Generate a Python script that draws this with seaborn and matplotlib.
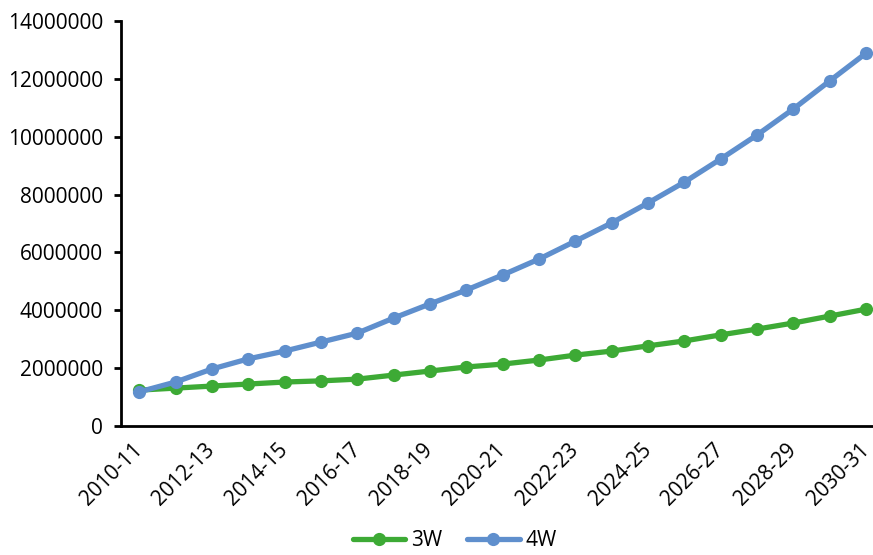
import matplotlib
matplotlib.use("Agg")
import matplotlib.pyplot as plt
import seaborn as sns
import pandas as pd

periods = [f"{y}-{str(y+1)[-2:]}" for y in range(2010, 2031)]
w3 = [1.24, 1.31, 1.38, 1.45, 1.52, 1.56, 1.62, 1.76, 1.90, 2.04, 2.14,
      2.28, 2.45, 2.59, 2.77, 2.94, 3.15, 3.35, 3.56, 3.80, 4.04]
w4 = [1.18, 1.52, 1.97, 2.32, 2.59, 2.90, 3.21, 3.73, 4.22, 4.70, 5.22,
      5.77, 6.39, 7.02, 7.71, 8.43, 9.23, 10.06, 10.96, 11.93, 12.89]
series = ["3W", "4W"]
colors = {"3W": "#3DAA35", "4W": "#5F8FCD"}

df = pd.DataFrame({
    "period": periods * 2,
    "value": [v * 1e6 for v in w3] + [v * 1e6 for v in w4],
    "series": ["3W"] * len(periods) + ["4W"] * len(periods),
})

sns.set_theme(style="white")
plt.rcParams["font.family"] = ["Open Sans", "DejaVu Sans"]
plt.rcParams["text.color"] = "black"
plt.rcParams["xtick.color"] = "black"
plt.rcParams["ytick.color"] = "black"

FS = 15

fig = plt.figure(figsize=(8.73, 5.55), dpi=100)
ax = fig.add_axes([121 / 873, 1 - 426 / 555, (873 - 121) / 873, (426 - 21) / 555])

sns.lineplot(data=df, x="period", y="value", hue="series", palette=colors,
             marker="o", markersize=9.5, markeredgewidth=0, linewidth=3.8,
             sort=False, ax=ax, legend=True)

ax.set_xlim(-0.5, 20.19)
ax.set_ylim(0, 14000000)
ax.set_yticks(range(0, 14000001, 2000000))
ax.set_yticklabels([str(v) for v in range(0, 14000001, 2000000)], fontsize=FS)
ax.set_xticks(range(0, 21, 2))
ax.set_xticklabels(periods[::2], rotation=45, ha="right", va="center",
                   rotation_mode="anchor", fontsize=FS)
ax.set_xlabel("")
ax.set_ylabel("")

for s in ["top", "right"]:
    ax.spines[s].set_visible(False)
for s in ["left", "bottom"]:
    ax.spines[s].set_color("black")
    ax.spines[s].set_linewidth(2)
ax.tick_params(axis="y", which="major", direction="out", length=5, width=2, color="black", left=True, pad=8)
ax.tick_params(axis="x", length=0, pad=15)

handles, labels = ax.get_legend_handles_labels()
ax.legend(handles, labels, loc="center", bbox_to_anchor=(455 / 873, 1 - 541 / 555),
          bbox_transform=fig.transFigure, ncol=2, frameon=False, fontsize=FS,
          handlelength=2.5, columnspacing=1.2, handletextpad=0.3)

fig.savefig("out.png", dpi=100)
